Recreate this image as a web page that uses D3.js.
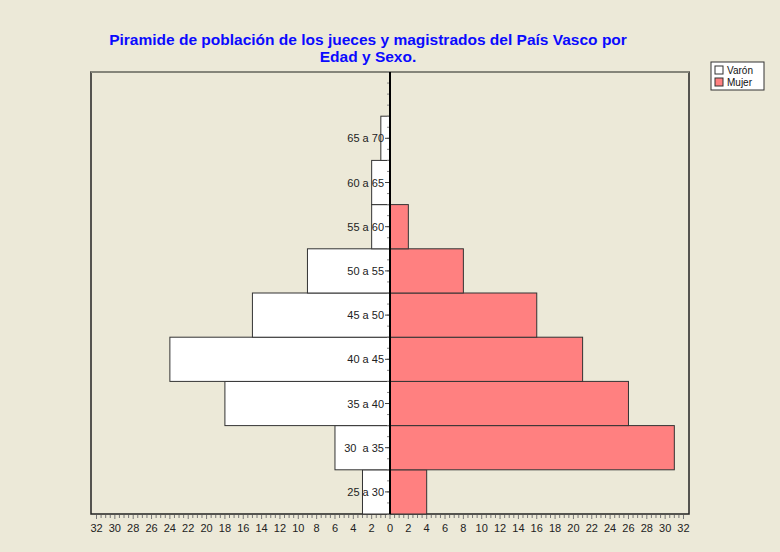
<!DOCTYPE html>
<html>
<head>
<meta charset="utf-8">
<script src="https://d3js.org/d3.v7.min.js"></script>
<style>
  body { margin: 0; background: #ece9d8; }
  svg { display: block; font-family: Arial, "Liberation Sans", sans-serif; }
</style>
</head>
<body>
<svg id="chart" width="780" height="552"></svg>
<script>
// age groups, bottom to top; the top slot of the chart is left empty
const ages = ["25 a 30", "30  a 35", "35 a 40", "40 a 45", "45 a 50", "50 a 55", "55 a 60", "60 a 65", "65 a 70"];
const varon = [3, 6, 18, 24, 15, 9, 2, 2, 1];
const mujer = [4, 31, 26, 21, 16, 8, 2, 0, 0];
const xTicks = d3.range(-32, 33, 2);
const seriesNames = ["Varón", "Mujer"];
const seriesColors = ["#ffffff", "#ff8080"];
const titleLines = ["Piramide de población de los jueces y magistrados del País Vasco por", "Edad y Sexo."];

const svg = d3.select("#chart");
const plotL = 91, plotR = 689, plotT = 72, plotB = 514;

const x = d3.scaleLinear().domain([-32.6, 32.6]).range([plotL, plotR]);
const y = d3.scaleBand().domain(ages.concat(["blank"])).range([plotB, plotT]).padding(0);

// title
svg.append("g").selectAll("text").data(titleLines).join("text")
  .attr("x", 368)
  .attr("y", (d, i) => 45 + i * 17)
  .attr("text-anchor", "middle")
  .attr("font-size", 15.5)
  .attr("font-weight", "bold")
  .attr("fill", "#0a0aff")
  .text(d => d);

// plot frame
svg.append("rect")
  .attr("x", plotL).attr("y", plotT)
  .attr("width", plotR - plotL).attr("height", plotB - plotT)
  .attr("fill", "#ece9d8")
  .attr("stroke", "#222").attr("stroke-width", 1.5);
svg.append("line")
  .attr("x1", plotL).attr("x2", plotR).attr("y1", plotT).attr("y2", plotT)
  .attr("stroke", "#85857a").attr("stroke-width", 2);

const rows = ages.map((a, i) => ({age: a, v: varon[i], m: mujer[i]}));

// male bars (left)
svg.append("g").selectAll("rect").data(rows.filter(d => d.v > 0)).join("rect")
  .attr("x", d => x(-d.v))
  .attr("y", d => y(d.age))
  .attr("width", d => x(0) - x(-d.v))
  .attr("height", y.bandwidth())
  .attr("fill", seriesColors[0])
  .attr("stroke", "#333").attr("stroke-width", 1);

// female bars (right)
svg.append("g").selectAll("rect").data(rows.filter(d => d.m > 0)).join("rect")
  .attr("x", x(0))
  .attr("y", d => y(d.age))
  .attr("width", d => x(d.m) - x(0))
  .attr("height", y.bandwidth())
  .attr("fill", seriesColors[1])
  .attr("stroke", "#333").attr("stroke-width", 1);

// minor ticks along the zero line
const minorY = d3.range(0, 41).map(k => plotB - k * y.step() / 4);
svg.append("g").selectAll("line").data(minorY).join("line")
  .attr("x1", x(0) - 3).attr("x2", x(0))
  .attr("y1", d => d).attr("y2", d => d)
  .attr("stroke", "#888").attr("stroke-width", 1);

// category labels with ticks
const yAxis = svg.append("g");
yAxis.selectAll("line").data(ages).join("line")
  .attr("x1", x(0) - 5).attr("x2", x(0))
  .attr("y1", d => y(d) + y.bandwidth() / 2)
  .attr("y2", d => y(d) + y.bandwidth() / 2)
  .attr("stroke", "#444");
yAxis.selectAll("text").data(ages).join("text")
  .attr("x", x(0) - 6)
  .attr("y", d => y(d) + y.bandwidth() / 2 + 4)
  .attr("text-anchor", "end")
  .attr("font-size", 11)
  .attr("fill", "#222")
  .style("white-space", "pre")
  .text(d => d);

// zero line
svg.append("line")
  .attr("x1", x(0)).attr("x2", x(0))
  .attr("y1", plotT).attr("y2", plotB)
  .attr("stroke", "#000").attr("stroke-width", 2);

// bottom axis
const xAxis = svg.append("g").attr("transform", `translate(0,${plotB + 1})`);
xAxis.selectAll("line.minor").data(d3.range(-32, 32.01, 0.5)).join("line")
  .attr("class", "minor")
  .attr("x1", d => x(d)).attr("x2", d => x(d))
  .attr("y1", 0).attr("y2", d => (d % 2 === 0 ? 4 : 3))
  .attr("stroke", "#777");
xAxis.selectAll("text").data(xTicks).join("text")
  .attr("x", d => x(d))
  .attr("y", 17)
  .attr("text-anchor", "middle")
  .attr("font-size", 11)
  .attr("fill", "#222")
  .text(d => Math.abs(d));

// legend
const lg = svg.append("g").attr("transform", "translate(711,62)");
lg.append("rect").attr("width", 53).attr("height", 28)
  .attr("fill", "#fff").attr("stroke", "#333");
const li = lg.selectAll("g").data(seriesNames).join("g")
  .attr("transform", (d, i) => `translate(4,${4 + i * 12})`);
li.append("rect").attr("width", 8).attr("height", 8)
  .attr("fill", (d, i) => seriesColors[i]).attr("stroke", "#333");
li.append("text").attr("x", 12).attr("y", 8)
  .attr("font-size", 10).attr("fill", "#111")
  .text(d => d);
</script>
</body>
</html>
